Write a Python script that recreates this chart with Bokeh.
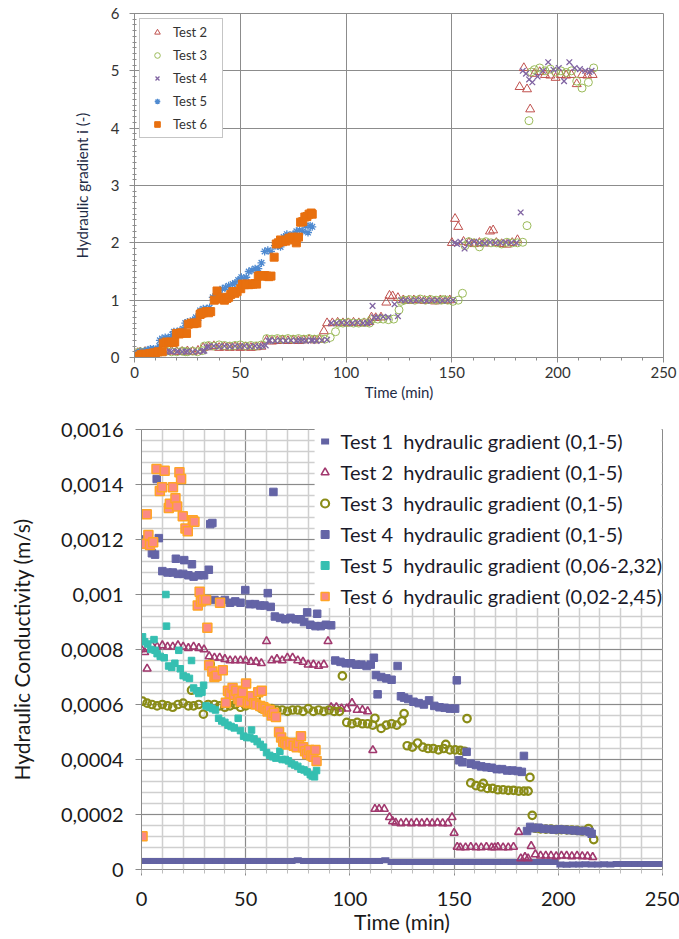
from bokeh.plotting import figure
from bokeh.layouts import column, row
from bokeh.models import Range1d, SingleIntervalTicker, CustomJSTickFormatter
from bokeh.embed import file_html
from bokeh.resources import INLINE

FONT = "Lato"

# ---------------- data (time in min) ----------------
# Test 1: hydraulic conductivity, units of 1e-4 m/s
t1_t = [0, 3, 6, 9, 12, 15, 18, 21, 24, 27, 30, 33, 36, 39, 42, 45, 48, 51, 54, 57,
        60, 63, 66, 69, 72, 75, 78, 81, 84, 87, 90, 93, 96, 99, 102, 105, 108, 111, 114, 117,
        120, 123, 126, 129, 132, 135, 138, 141, 144, 147, 150, 153, 156, 159, 162, 165, 168, 171, 174, 177,
        180, 183, 186, 189, 192, 195, 198, 201, 204, 207, 210, 213, 216, 219, 222, 225, 228, 231, 234, 237,
        240, 243, 246, 249]
t1_k = [0.31, 0.31, 0.31, 0.31, 0.31, 0.31, 0.31, 0.31, 0.31, 0.31, 0.31, 0.31, 0.31, 0.31, 0.31, 0.31, 0.31, 0.31, 0.31, 0.31,
        0.31, 0.31, 0.31, 0.31, 0.31, 0.34, 0.31, 0.31, 0.31, 0.31, 0.31, 0.31, 0.31, 0.31, 0.31, 0.31, 0.31, 0.31, 0.31, 0.34,
        0.27, 0.27, 0.27, 0.27, 0.27, 0.27, 0.27, 0.27, 0.27, 0.27, 0.27, 0.27, 0.27, 0.27, 0.27, 0.27, 0.27, 0.27, 0.27, 0.27,
        0.27, 0.27, 0.27, 0.27, 0.27, 0.27, 0.27, 0.18, 0.17, 0.18, 0.18, 0.19, 0.18, 0.18, 0.19, 0.18, 0.2, 0.2, 0.2, 0.2,
        0.2, 0.2, 0.2, 0.2]

# Test 2
t2_t = [0, 1.5, 2.7, 5, 7.5, 10, 12.5, 15, 17.5, 20,
        22.5, 25, 27.5, 30, 32.5, 35, 37.5, 40, 42.5, 45,
        47.5, 50, 52.5, 55, 57.5, 60, 62.5, 65, 67.5, 70,
        72.5, 75, 77.5, 80, 82.5, 85, 87.5, 89.5, 91, 93.5,
        96, 98.5, 101, 103.5, 106, 108.5, 111, 112, 114, 116.5,
        119, 120.5, 122, 124.5, 127, 129.5, 132, 134.5, 137, 139.5,
        142, 144.5, 147, 149, 150, 151.5, 153, 155.5, 158, 160.5,
        163, 165.5, 168, 169.5, 171, 173.5, 176, 178.5, 181, 182,
        184, 185.5, 187, 189, 191.5, 194, 196.5, 199, 201.5, 204,
        206.5, 209, 211.5, 214, 216.5]
t2_i = [0.06, 0.08, 0.09, 0.1, 0.1, 0.11, 0.1, 0.1, 0.11, 0.1,
        0.1, 0.11, 0.1, 0.12, 0.17, 0.18, 0.2, 0.17, 0.18, 0.17,
        0.18, 0.17, 0.18, 0.17, 0.18, 0.19, 0.3, 0.28, 0.29, 0.3,
        0.29, 0.3, 0.29, 0.3, 0.31, 0.3, 0.31, 0.46, 0.6, 0.6,
        0.61, 0.6, 0.6, 0.61, 0.6, 0.6, 0.62, 0.7, 0.69, 0.7,
        0.96, 1.08, 1.07, 1.04, 1.0, 0.99, 1.0, 1.0, 0.99, 1.0,
        0.98, 1.0, 0.99, 1.0, 2.0, 2.42, 2.28, 2.02, 2.0, 1.98,
        2.0, 1.99, 2.2, 2.22, 2.0, 1.98, 1.97, 2.0, 2.05, 4.72,
        5.05, 4.68, 4.33, 4.95, 4.98, 4.93, 4.92, 4.88, 4.93, 4.92,
        4.93, 4.77, 4.93, 4.92, 4.93]
t2_k = [8.0, 7.9, 7.3, 8.15, 8.1, 8.15, 8.1, 8.1, 8.15, 8.1,
        8.05, 8.1, 8.05, 8.0, 7.75, 7.7, 7.7, 7.65, 7.6, 7.6,
        7.6, 7.6, 7.55, 7.55, 7.5, 8.3, 7.6, 7.65, 7.6, 7.7,
        7.7, 7.6, 7.55, 7.45, 7.45, 7.4, 7.45, 8.3, 5.9, 5.9,
        5.85, 5.85, 6.05, 5.8, 5.8, 5.75, 4.34, 2.2, 2.2, 2.2,
        1.9, 1.75, 1.7, 1.68, 1.7, 1.68, 1.7, 1.68, 1.7, 1.68,
        1.7, 1.68, 1.68, 1.9, 1.33, 0.82, 0.8, 0.8, 0.82, 0.8,
        0.8, 0.82, 0.8, 0.8, 0.82, 0.8, 0.8, 0.82, 1.36, 0.4,
        0.45, 0.4, 0.85, 0.55, 0.5, 0.5, 0.5, 0.48, 0.5, 0.5,
        0.48, 0.5, 0.48, 0.48, 0.45]

# Test 3
t3_t = [0.5, 2.7, 5, 7.5, 10, 12.5, 15, 17.5, 20, 22.5,
        24, 25, 27.5, 29.7, 32, 33, 35, 37.5, 40, 42.5,
        45, 47.5, 50, 52.5, 55, 57.5, 60, 62.5, 65, 67.5,
        70, 72.5, 75, 77.5, 80, 82.5, 85, 87.5, 90, 92.5,
        95, 96.4, 98.5, 101, 103.5, 106, 108.5, 111, 112, 115,
        117.5, 120, 122.5, 125, 126, 127.5, 130, 132.5, 135, 137.5,
        140, 142.5, 145, 146, 148, 150.5, 153, 155, 156.2, 158,
        160.5, 163, 164, 166, 168.5, 171, 173.5, 176, 178.5, 181,
        183.5, 185.5, 186.4, 187.5, 189, 191.5, 194, 196.5, 199, 201.5,
        204, 206.5, 209, 211.5, 214.5, 217]
t3_i = [0.08, 0.1, 0.1, 0.11, 0.1, 0.1, 0.11, 0.1, 0.1, 0.11,
        0.1, 0.1, 0.11, 0.1, 0.12, 0.2, 0.21, 0.2, 0.22, 0.21,
        0.2, 0.21, 0.22, 0.2, 0.21, 0.2, 0.22, 0.33, 0.32, 0.33,
        0.32, 0.33, 0.32, 0.33, 0.32, 0.33, 0.32, 0.33, 0.32, 0.35,
        0.45, 0.6, 0.6, 0.61, 0.6, 0.6, 0.61, 0.6, 0.66, 0.67,
        0.67, 0.66, 0.67, 0.83, 0.98, 1.0, 1.01, 1.0, 1.02, 1.0,
        1.01, 1.0, 1.0, 1.01, 1.0, 0.98, 1.0, 1.12, 1.95, 2.02,
        2.0, 1.93, 2.0, 2.02, 2.0, 2.0, 1.98, 2.01, 2.0, 2.0,
        2.01, 2.3, 4.13, 4.98, 5.02, 5.05, 5.0, 5.03, 4.98, 5.0,
        4.97, 5.0, 4.82, 4.7, 4.8, 5.05]
t3_k = [6.12, 6.05, 6.0, 5.95, 6.0, 5.95, 5.9, 6.0, 6.05, 5.95,
        6.52, 5.95, 6.0, 5.65, 6.0, 7.47, 6.0, 5.95, 5.9, 5.95,
        6.0, 5.9, 5.95, 6.0, 6.25, 5.85, 5.8, 5.85, 5.8, 5.8,
        5.75, 5.8, 5.8, 5.75, 5.85, 5.75, 5.8, 5.75, 5.8, 5.75,
        5.75, 7.04, 5.35, 5.3, 5.35, 5.3, 5.3, 5.25, 5.5, 5.13,
        5.25, 5.3, 5.25, 5.4, 5.67, 4.5, 4.45, 4.6, 4.45, 4.4,
        4.4, 4.35, 4.4, 4.55, 4.35, 4.35, 4.33, 4.3, 5.49, 3.15,
        3.05, 3.0, 3.13, 2.95, 2.95, 2.9, 2.9, 2.88, 2.88, 2.85,
        2.85, 2.85, 3.35, 1.97, 1.5, 1.48, 1.47, 1.47, 1.45, 1.45,
        1.44, 1.43, 1.42, 1.4, 1.49, 1.09]

# Test 4
t4_t = [0.5, 2, 3.5, 5, 6.5, 7.3, 8.3, 10, 12.5, 15,
        16.5, 17.5, 20, 20.5, 22.5, 24.2, 25, 27.5, 30, 32.3,
        33, 34, 35, 37.5, 40, 42.5, 45, 47.5, 49.8, 52,
        54.5, 57, 59, 60.6, 62, 63.3, 64, 66.5, 69, 71.5,
        74, 76.5, 78, 79.5, 81, 83.5, 84.3, 86, 88.5, 91,
        93, 95.5, 98, 100.5, 103, 105.5, 108, 110, 111.5, 112.5,
        113.3, 115, 117.5, 120, 122.9, 124.5, 126, 128, 130.5, 133,
        135.5, 138, 140.5, 143, 145.5, 148, 150.5, 151.3, 152.4, 154,
        156, 158, 160.5, 163, 165.5, 168, 170.5, 173, 175.5, 178,
        180.5, 182.5, 183.5, 185, 186.5, 188, 190.5, 193, 195.5, 198,
        200.5, 203, 205.5, 208, 210.5, 213, 215, 216]
t4_i = [0.05, 0.08, 0.1, 0.1, 0.11, 0.1, 0.1, 0.11, 0.1, 0.1,
        0.11, 0.1, 0.1, 0.11, 0.1, 0.1, 0.11, 0.1, 0.1, 0.11,
        0.12, 0.18, 0.19, 0.2, 0.19, 0.2, 0.19, 0.2, 0.19, 0.2,
        0.19, 0.2, 0.19, 0.2, 0.21, 0.29, 0.3, 0.29, 0.3, 0.29,
        0.3, 0.29, 0.3, 0.3, 0.29, 0.3, 0.3, 0.29, 0.3, 0.31,
        0.6, 0.6, 0.61, 0.6, 0.6, 0.61, 0.6, 0.6, 0.62, 0.9,
        0.7, 0.7, 0.71, 0.7, 0.93, 0.72, 1.0, 1.0, 0.99, 1.0,
        1.0, 0.99, 1.0, 1.0, 0.99, 1.0, 1.0, 2.0, 1.98, 2.02,
        1.9, 2.0, 2.02, 2.0, 1.99, 2.01, 2.0, 2.0, 2.01, 2.0,
        2.0, 2.53, 5.0, 4.95, 4.85, 4.8, 4.9, 5.0, 5.15, 5.02,
        5.05, 4.82, 5.15, 5.05, 5.03, 5.0, 4.98, 5.0]
t4_k = [11.9, 12.0, 11.8, 11.5, 11.45, 14.2, 12.05, 10.85, 10.8, 10.8,
        11.3, 10.75, 10.75, 11.25, 10.7, 11.1, 10.65, 10.7, 10.7, 10.9,
        12.56, 12.6, 9.8, 9.75, 9.8, 9.7, 9.75, 9.7, 10.16, 9.65,
        9.65, 9.6, 9.6, 10.05, 9.55, 13.73, 9.2, 9.15, 9.1, 9.15,
        9.1, 9.1, 9.0, 9.35, 8.9, 8.85, 9.3, 8.85, 8.9, 8.88,
        7.6, 7.55, 7.5, 7.5, 7.45, 7.45, 7.4, 7.45, 7.7, 7.07,
        6.37, 7.0, 6.95, 6.9, 7.4, 6.3, 6.25, 6.2, 6.1, 6.05,
        6.0, 6.15, 5.95, 5.9, 5.88, 5.85, 5.85, 6.88, 3.97, 3.9,
        4.28, 3.85, 3.8, 3.75, 3.72, 3.7, 3.65, 3.65, 3.6, 3.6,
        3.58, 3.55, 4.13, 1.4, 1.55, 1.5, 1.52, 1.48, 1.47, 1.45,
        1.46, 1.45, 1.43, 1.42, 1.4, 1.4, 1.37, 1.3]

# Test 5
t5_t = [0.5, 1.5, 3, 4.5, 6, 6.5, 7.5, 9, 10.9, 11.7,
        12, 13, 14.5, 16, 17.9, 18.6, 20, 21.5, 23, 24,
        25, 26.5, 27.5, 29, 29.8, 31, 32.5, 34, 35.5, 37,
        38.5, 40, 41.5, 43, 44.5, 46.4, 47.5, 49, 50.5, 52,
        52.8, 54, 55.5, 57, 58.5, 60, 61.5, 63, 64.5, 66.4,
        67.5, 69, 70.5, 72, 73.5, 75, 76.5, 78, 79.5, 81,
        82, 83, 84]
t5_i = [0.05, 0.08, 0.1, 0.1, 0.12, 0.12, 0.15, 0.15, 0.15, 0.2,
        0.3, 0.33, 0.35, 0.35, 0.4, 0.45, 0.45, 0.47, 0.5, 0.6,
        0.62, 0.62, 0.65, 0.7, 0.65, 0.82, 0.85, 0.85, 0.87, 1.05,
        1.08, 1.1, 1.2, 1.22, 1.25, 1.28, 1.3, 1.35, 1.4, 1.37,
        1.4, 1.5, 1.52, 1.55, 1.55, 1.65, 1.85, 1.87, 1.85, 1.95,
        1.95, 1.93, 2.1, 2.15, 2.12, 2.15, 2.2, 2.22, 2.2, 2.3,
        2.18, 2.3, 2.28]
t5_k = [8.46, 8.28, 8.2, 8.0, 8.36, 7.97, 7.85, 7.75, 7.7, 10.0,
        8.85, 7.4, 7.35, 7.5, 7.97, 7.3, 7.05, 7.0, 6.95, 7.6,
        6.6, 6.5, 6.4, 6.45, 6.7, 5.95, 5.9, 5.85, 5.8, 5.5,
        5.4, 5.35, 5.25, 5.2, 5.15, 5.5, 5.05, 4.85, 4.8, 4.8,
        5.07, 4.75, 4.65, 4.55, 4.45, 4.25, 4.15, 4.1, 4.05, 4.3,
        4.0, 4.0, 3.95, 3.85, 3.8, 3.75, 3.65, 3.62, 3.55, 3.45,
        3.4, 3.37, 3.6]

# Test 6
t6_t = [0.5, 1.5, 2.5, 3.3, 4.1, 5.6, 7.2, 8.8, 9.9, 11.1,
        13.1, 13.6, 15.1, 16.3, 17.1, 18.2, 19, 19.8, 21.1, 22.2,
        24.6, 25.4, 27, 27.9, 28.5, 29.5, 31, 31.6, 32.5, 34,
        35, 36, 37.7, 39, 40.5, 41.5, 42.5, 43.7, 44.5, 45.5,
        46.5, 47.5, 48.5, 50.2, 51, 52, 52.9, 54, 55, 56,
        57, 57.7, 58.5, 59.5, 60.5, 61.5, 62.5, 63.5, 64.5, 66,
        67, 68, 69, 70, 71.5, 73, 74.5, 75.5, 76.5, 77.5,
        78.5, 79.5, 80.5, 81.5, 82.5, 83.5, 84]
t6_i = [0.02, 0.03, 0.04, 0.05, 0.06, 0.05, 0.07, 0.08, 0.08, 0.1,
        0.1, 0.25, 0.27, 0.26, 0.27, 0.26, 0.27, 0.42, 0.41, 0.43,
        0.42, 0.58, 0.6, 0.59, 0.6, 0.6, 0.75, 0.77, 0.78, 0.8,
        0.78, 0.8, 1.0, 1.16, 1.02, 1.05, 1.0, 1.03, 1.05, 1.1,
        1.15, 1.12, 1.15, 1.2, 1.28, 1.27, 1.28, 1.27, 1.28, 1.28,
        1.29, 1.28, 1.42, 1.43, 1.42, 1.43, 1.42, 1.41, 1.42, 1.75,
        1.98, 2.0, 2.05, 2.02, 2.03, 2.08, 2.1, 2.05, 2.0, 2.1,
        2.36, 2.37, 2.45, 2.46, 2.5, 2.52, 2.5]
t6_k = [1.21, 11.85, 12.92, 12.16, 11.8, 11.9, 14.56, 13.76, 13.9, 14.5,
        13.15, 13.3, 13.9, 13.5, 13.2, 14.45, 14.2, 12.85, 12.4, 12.3,
        12.7, 12.65, 9.6, 10.1, 9.75, 9.8, 9.8, 8.79, 7.43, 7.2,
        7.0, 7.05, 9.7, 7.25, 6.06, 6.5, 6.4, 6.6, 6.35, 6.5,
        6.2, 6.1, 6.45, 6.76, 6.05, 6.1, 6.3, 6.05, 6.0, 6.45,
        5.95, 6.5, 5.9, 5.85, 5.75, 5.8, 5.6, 5.7, 5.55, 5.0,
        4.8, 4.65, 4.6, 4.55, 4.6, 4.5, 4.45, 4.6, 4.85, 4.45,
        4.3, 4.2, 4.35, 4.15, 4.1, 4.35, 3.95]

legend_bottom = [
    "Test 1\u00a0\u00a0hydraulic gradient (0,1-5)",
    "Test 2\u00a0\u00a0hydraulic gradient (0,1-5)",
    "Test 3\u00a0\u00a0hydraulic gradient (0,1-5)",
    "Test 4\u00a0\u00a0hydraulic gradient (0,1-5)",
    "Test 5\u00a0\u00a0hydraulic gradient (0,06-2,32)",
    "Test 6\u00a0\u00a0hydraulic gradient (0,02-2,45)",
]


def e4(vals):
    return [v * 1e-4 for v in vals]


# ---------------- top chart: hydraulic gradient ----------------
p1 = figure(width=679, height=405, x_range=Range1d(0, 250), y_range=Range1d(0, 6),
            output_backend="svg", toolbar_location=None,
            min_border_left=134, min_border_right=16, min_border_top=13, min_border_bottom=48,
            outline_line_color="#8c8c8c", background_fill_color="white", border_fill_color="white")

p1.scatter(t2_t, t2_i, marker="triangle", size=9, fill_color=None, line_color="#c0504d", line_width=1, legend_label="Test 2")
p1.scatter(t3_t, t3_i, marker="circle", size=8, fill_color=None, line_color="#9bbb59", line_width=1, legend_label="Test 3")
p1.scatter(t4_t, t4_i, marker="x", size=8, line_color="#8064a2", line_width=1.3, legend_label="Test 4")
p1.scatter(t5_t, t5_i, marker="asterisk", size=8, line_color="#4f8ad0", line_width=1.3, legend_label="Test 5")
p1.scatter(t6_t, t6_i, marker="square", size=8, fill_color="#e8700f", line_color="#e8700f", legend_label="Test 6")

xa = p1.xaxis[0]
xa.ticker = SingleIntervalTicker(interval=50, num_minor_ticks=5)
ya = p1.yaxis[0]
ya.ticker = SingleIntervalTicker(interval=1, num_minor_ticks=10)
for ax in (xa, ya):
    ax.axis_line_color = "#8c8c8c"
    ax.major_tick_line_color = "#8c8c8c"
    ax.minor_tick_line_color = "#8c8c8c"
    ax.major_tick_out = 5
    ax.major_tick_in = 0
    ax.major_label_text_font = FONT
    ax.major_label_text_font_size = "15px"
    ax.major_label_text_color = "#333333"
    ax.axis_label_text_font = FONT
    ax.axis_label_text_font_size = "15px"
    ax.axis_label_text_font_style = "normal"
    ax.axis_label_text_color = "#1e2b45"
xa.minor_tick_out = 3
xa.minor_tick_in = 0
ya.minor_tick_out = 2
ya.minor_tick_in = 2
xa.axis_label = "Time (min)"
xa.major_label_standoff = 4
xa.axis_label_standoff = 2
ya.axis_label = "Hydraulic gradient i (-)"
ya.major_label_standoff = 10
ya.axis_label_standoff = 17
p1.grid.grid_line_color = "#8c8c8c"
p1.grid.grid_line_width = 1

lg1 = p1.legend[0]
lg1.location = "top_left"
lg1.margin = 5
lg1.padding = 5
lg1.spacing = 7
lg1.label_height = 14
lg1.glyph_height = 14
lg1.glyph_width = 24
lg1.label_standoff = 4
lg1.label_width = 44
lg1.label_text_font = FONT
lg1.label_text_font_size = "13px"
lg1.label_text_color = "#333333"
lg1.border_line_color = "#8c8c8c"
lg1.background_fill_color = "white"
lg1.background_fill_alpha = 1

# ---------------- bottom chart: hydraulic conductivity ----------------
p2 = figure(width=679, height=534, x_range=Range1d(0, 250), y_range=Range1d(0, 0.0016),
            output_backend="svg", toolbar_location=None,
            min_border_left=141, min_border_right=17, min_border_top=24, min_border_bottom=70,
            outline_line_color="#8a8a8a", background_fill_color="white", border_fill_color="white")

p2.scatter(t1_t, e4(t1_k), marker="dash", size=8, line_color="#6363a3", line_width=6, legend_label=legend_bottom[0])
p2.scatter(t2_t, e4(t2_k), marker="triangle", size=8, fill_color=None, line_color="#a1386e", line_width=1.6, legend_label=legend_bottom[1])
p2.scatter(t3_t, e4(t3_k), marker="circle", size=7.5, fill_color=None, line_color="#8a8c17", line_width=2.2, legend_label=legend_bottom[2])
p2.scatter(t4_t, e4(t4_k), marker="square", size=7.5, fill_color="#6464a6", line_color="#6464a6", legend_label=legend_bottom[3])
p2.scatter(t5_t, e4(t5_k), marker="square", size=6.5, fill_color="#35bfb1", line_color="#35bfb1", legend_label=legend_bottom[4])
p2.scatter(t6_t, e4(t6_k), marker="square", size=9, fill_color="#fb8a83", line_color="#ffa526", line_width=1.5, legend_label=legend_bottom[5])

xb = p2.xaxis[0]
xb.ticker = SingleIntervalTicker(interval=50, num_minor_ticks=5)
yb = p2.yaxis[0]
yb.ticker = SingleIntervalTicker(interval=0.0002, num_minor_ticks=5)
yb.formatter = CustomJSTickFormatter(code="""
let s = tick.toFixed(4).replace(/0+$/, '').replace(/\\.$/, '');
return s.replace('.', ',');
""")
for ax in (xb, yb):
    ax.axis_line_color = "#8a8a8a"
    ax.major_tick_line_color = "#8a8a8a"
    ax.minor_tick_line_color = "#bdbdbd"
    ax.major_tick_out = 6
    ax.major_tick_in = 0
    ax.major_label_text_font = FONT
    ax.major_label_text_font_size = "20px"
    ax.major_label_text_color = "#1a1a1a"
    ax.axis_label_text_font = FONT
    ax.axis_label_text_font_size = "21px"
    ax.axis_label_text_font_style = "normal"
    ax.axis_label_text_color = "#1a1a1a"
xb.minor_tick_out = 4
xb.minor_tick_in = 0
yb.minor_tick_out = 0
yb.minor_tick_in = 0
xb.axis_label = "Time (min)"
xb.major_label_standoff = 16
xb.axis_label_standoff = 0
yb.axis_label = "Hydraulic Conductivity (m/s)"
yb.major_label_standoff = 12
yb.axis_label_standoff = 24

p2.grid.grid_line_color = "#8a8a8a"
p2.grid.grid_line_width = 1
p2.grid.minor_grid_line_color = "#cfcfcf"
p2.grid.minor_grid_line_width = 1.5

lg2 = p2.legend[0]
lg2.location = "top_right"
lg2.margin = 0
lg2.padding = 8
lg2.spacing = 7
lg2.label_height = 20
lg2.glyph_height = 20
lg2.glyph_width = 20
lg2.label_standoff = 6
lg2.label_text_font = FONT
lg2.label_text_font_size = "20px"
lg2.label_text_color = "#1a1a2a"
lg2.border_line_color = None
lg2.background_fill_color = "white"
lg2.background_fill_alpha = 1

layout = column(row(p1), row(p2), spacing=0)
open("out.html", "w").write(file_html(layout, INLINE, title="Hydraulic gradient and conductivity"))
